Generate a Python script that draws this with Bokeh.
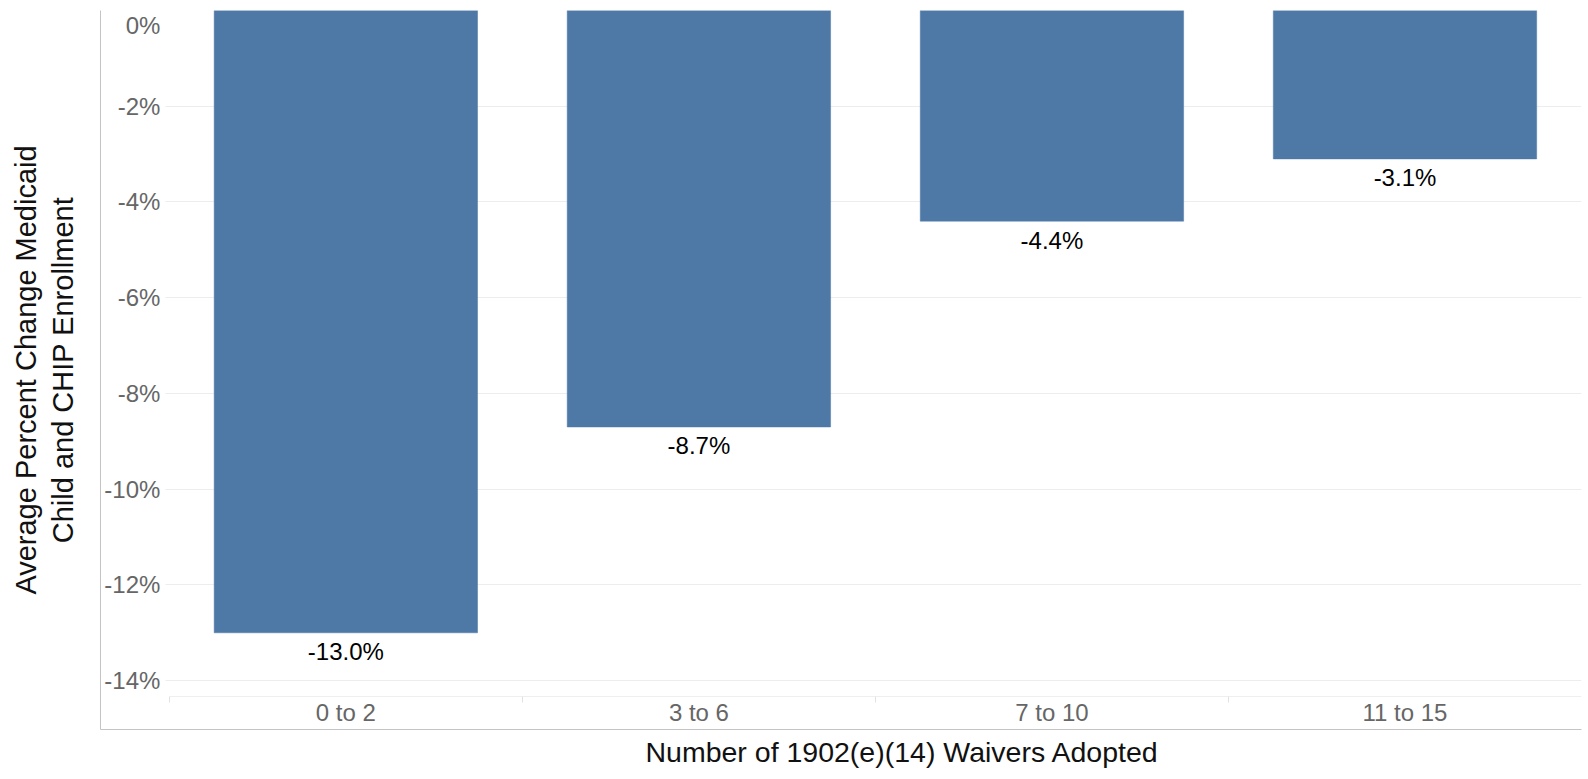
from bokeh.plotting import figure
from bokeh.models import (LinearAxis, FixedTicker, PrintfTickFormatter, Grid,
                          Range1d, ColumnDataSource, Label, Title)
from bokeh.embed import file_html
from bokeh.resources import INLINE
from bokeh.core.properties import value

# ---- data ----
categories = ["0 to 2", "3 to 6", "7 to 10", "11 to 15"]
pct_change = [-13.0, -8.7, -4.4, -3.1]
y_ticks = [-14, -12, -10, -8, -6, -4, -2]
x_title = "Number of 1902(e)(14) Waivers Adopted"
y_title_line1 = "Average Percent Change Medicaid"
y_title_line2 = "Child and CHIP Enrollment"

FONT = "Liberation Sans"
BAR = "#4e79a7"
N = len(categories)

xs = [i + 0.5 for i in range(N)]
src = ColumnDataSource(dict(
    x=xs, top=[0.0] * len(pct_change), bottom=pct_change,
    lbl=[f"{v:.1f}%" for v in pct_change],
))

p = figure(width=1588, height=777, output_backend="svg", toolbar_location=None,
           x_axis_location=None, y_axis_location=None,
           x_range=Range1d(-0.195, N),
           y_range=Range1d(-15.02, 0),
           min_border_left=100, min_border_right=7, min_border_top=10,
           min_border_bottom=48)
p.outline_line_color = None
p.background_fill_color = "white"
p.border_fill_color = "white"

# drop any default grids
p.center = [r for r in p.center if not isinstance(r, Grid)]

# horizontal gridlines
grid = Grid(dimension=1, ticker=FixedTicker(ticks=y_ticks),
            grid_line_color="#ededed", grid_line_width=1)
try:
    grid.cross_bounds = (-0.012, N)
except Exception:
    pass
p.add_layout(grid)

# bars
p.vbar(x="x", top="top", bottom="bottom", width=0.746, source=src,
       fill_color=BAR, line_color=BAR, line_width=0.5)

# value labels
p.text(x="x", y="bottom", text="lbl", source=src, y_offset=19,
       text_align="center", text_baseline="middle",
       text_font=value(FONT), text_font_size="24px", text_color="#000000")

no_ticks = dict(major_tick_out=0, major_tick_in=0,
                minor_tick_out=0, minor_tick_in=0)
title_style = dict(axis_label_text_font=FONT,
                   axis_label_text_font_style="normal",
                   axis_label_text_font_size="29px",
                   axis_label_text_color="#111111", **no_ticks)

# frame border lines (left and bottom)
left_line = LinearAxis(ticker=FixedTicker(ticks=[]), axis_line_color="#c4c4c4",
                       axis_line_width=1, major_label_standoff=0, **no_ticks)
p.add_layout(left_line, "left")
bottom_line = LinearAxis(ticker=FixedTicker(ticks=[]), axis_line_color="#c4c4c4",
                         axis_line_width=1, major_label_standoff=0, **no_ticks)
p.add_layout(bottom_line, "below")

# y axis title (two lines)
left_inner = LinearAxis(ticker=FixedTicker(ticks=[]), axis_label=y_title_line2,
                        axis_line_color=None,
                        axis_label_standoff=22, **title_style)
p.add_layout(left_inner, "left")
left_outer = LinearAxis(ticker=FixedTicker(ticks=[]), axis_label=y_title_line1,
                        axis_line_color=None,
                        axis_label_standoff=2, **title_style)
p.add_layout(left_outer, "left")

# x axis title
x_title_model = Title(text=x_title, align="left", offset=545,
                      vertical_align="top", standoff=12,
                      text_font=FONT, text_font_style="normal",
                      text_font_size="28.5px", text_color="#111111")
p.add_layout(x_title_model, "below")

# y tick labels inside the left margin
y_ax = LinearAxis(fixed_location=0, ticker=FixedTicker(ticks=y_ticks),
                  formatter=PrintfTickFormatter(format="%d%%"),
                  axis_line_color=None, major_tick_line_color=None,
                  minor_tick_line_color=None, major_tick_out=0, major_tick_in=0,
                  major_label_standoff=9,
                  major_label_text_font=FONT, major_label_text_font_size="24px",
                  major_label_text_color="#666666")
p.add_layout(y_ax, "left")

zero_lbl = Label(x=0, y=0, x_units="data", y_units="data", text="0%",
                 x_offset=-9, y_offset=-15, text_align="right",
                 text_baseline="middle", text_font=FONT,
                 text_font_size="24px", text_color="#666666")
p.add_layout(zero_lbl)

# category axis
cat_axis = LinearAxis(fixed_location=-14.33,
                      ticker=FixedTicker(ticks=xs, minor_ticks=list(range(N))),
                      major_label_overrides={x: c for x, c in zip(xs, categories)},
                      bounds=(0, N),
                      axis_line_color="#efefef", axis_line_width=1,
                      major_tick_line_color=None, major_tick_out=0, major_tick_in=0,
                      minor_tick_line_color="#e2e2e2", minor_tick_out=6,
                      minor_tick_in=0,
                      major_label_standoff=-3,
                      major_label_text_font=FONT, major_label_text_font_size="24px",
                      major_label_text_color="#666666")
p.add_layout(cat_axis, "below")

open("out.html", "w").write(file_html(p, INLINE))
